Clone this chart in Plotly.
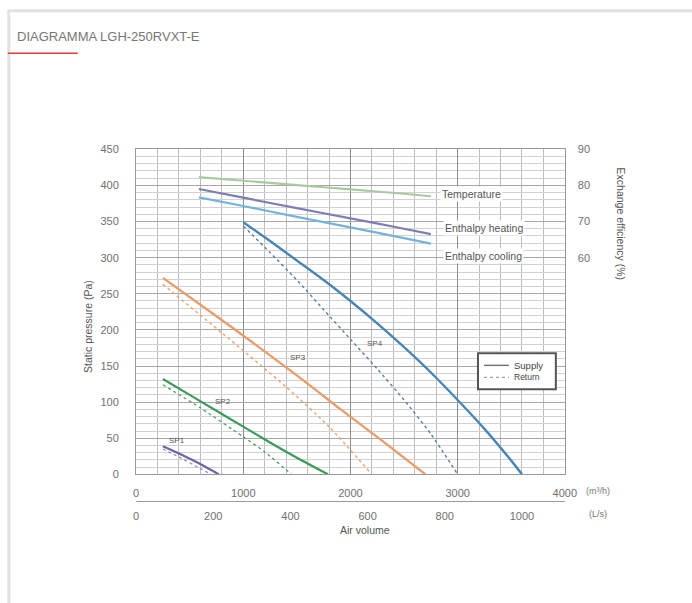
import plotly.graph_objects as go

W, H = 692, 603

# ---------------- data ----------------
# Static pressure curves (air volume m3/h, static pressure Pa)
sp1_sup_x = [250, 400, 550, 700, 770]
sp1_sup_y = [39, 29, 18, 6, 0]
sp1_ret_x = [250, 400, 550, 700]
sp1_ret_y = [35, 24, 12, 0]

sp2_sup_x = [250, 500, 750, 1000, 1250, 1500, 1790]
sp2_sup_y = [132, 110, 88, 66, 44, 23, 0]
sp2_ret_x = [250, 600, 1000, 1200, 1450]
sp2_ret_y = [124, 92, 52, 31, 0]

sp3_sup_x = [250, 880, 1500, 1900, 2300, 2700]
sp3_sup_y = [272, 205, 137, 91, 46, 0]
sp3_ret_x = [250, 800, 1400, 1800, 2200]
sp3_ret_y = [263, 196, 121, 66, 0]

sp4_sup_x = [1000, 1250, 1500, 1750, 2000, 2250, 2500, 2750, 3000, 3250, 3500, 3600]
sp4_sup_y = [349, 323, 296, 269, 240, 209, 176, 141, 103, 63, 19, 0]
sp4_ret_x = [1000, 1250, 1500, 1750, 2000, 2250, 2500, 2750, 3000]
sp4_ret_y = [344, 307, 269, 228, 187, 146, 103, 56, 0]

# Exchange efficiency curves (air volume m3/h, efficiency %)
eff_x = [586, 1000, 1500, 2000, 2500, 2750]
temp_eff = [82.3, 81.3, 80.1, 78.9, 77.7, 77.0]
heat_eff = [79.0, 76.6, 73.7, 70.9, 68.0, 66.5]
cool_eff = [76.7, 74.3, 71.3, 68.4, 65.4, 63.9]

x_ticks_m3h = [0, 1000, 2000, 3000, 4000]
x_ticks_ls = [0, 200, 400, 600, 800, 1000]
y_ticks_pa = [0, 50, 100, 150, 200, 250, 300, 350, 400, 450]
y_ticks_eff = [60, 70, 80, 90]

# ---------------- layout helpers ----------------
# target pixel positions (as seen in the final picture) -> figure pixels
SC, OX, OY = 0.98, 2.2, 4.7
def X(c):
    return (c - OX) / SC
def Y(c):
    return (c - OY) / SC
def px(c):
    return X(c) / W
def py(c):
    return 1 - Y(c) / H

PL, PR, PT, PB = 135.5, 565, 148, 473

fig = go.Figure()

def add_curve(x, y, color, dash="solid", width=2.0, yaxis="y"):
    fig.add_trace(go.Scatter(x=x, y=y, mode="lines", yaxis=yaxis, showlegend=False,
                             line=dict(color=color, width=width, dash=dash, shape="spline", smoothing=0.6),
                             hoverinfo="skip"))

# efficiency curves (right axis)
add_curve(eff_x, temp_eff, "#a9c9a2", width=2.2, yaxis="y2")
add_curve(eff_x, heat_eff, "#7f7db3", width=2.2, yaxis="y2")
add_curve(eff_x, cool_eff, "#74b4d8", width=2.2, yaxis="y2")

# pressure curves
add_curve(sp1_ret_x, sp1_ret_y, "#8e86c0", dash="dot", width=1.2)
add_curve(sp1_sup_x, sp1_sup_y, "#6e64a8", width=2.2)
add_curve(sp2_ret_x, sp2_ret_y, "#4f9a69", dash="dot", width=1.3)
add_curve(sp2_sup_x, sp2_sup_y, "#3c9a5c", width=2.2)
add_curve(sp3_ret_x, sp3_ret_y, "#e7a67a", dash="dot", width=1.5)
add_curve(sp3_sup_x, sp3_sup_y, "#e89d6a", width=2.4)
add_curve(sp4_ret_x, sp4_ret_y, "#5a7f9e", dash="dot", width=1.4)
add_curve(sp4_sup_x, sp4_sup_y, "#4a86b4", width=2.4)

# dummy trace for the L/s axis
fig.add_trace(go.Scatter(x=[0, 4000 / 3.6], y=[None, None], xaxis="x2", mode="lines",
                         showlegend=False, hoverinfo="skip"))

tickfont = dict(family="Liberation Sans, Arial", size=11, color="#707070")

fig.update_layout(
    width=W, height=H,
    margin=dict(l=0, r=0, t=0, b=0),
    paper_bgcolor="white", plot_bgcolor="white",
    showlegend=False,
    xaxis=dict(domain=[px(PL), px(PR)], range=[0, 4000], tickvals=x_ticks_m3h,
               ticks="", ticklabelstandoff=8, tickfont=tickfont,
               showgrid=True, gridcolor="#8c8c8c", gridwidth=1,
               minor=dict(dtick=200, showgrid=True, gridcolor="#bdbdbd", gridwidth=1),
               showline=True, linecolor="#999", mirror=True, zeroline=False),
    xaxis2=dict(domain=[px(PL), px(PR)], overlaying="x", anchor="free", side="bottom",
                position=py(500), range=[0, 4000 / 3.6], tickvals=x_ticks_ls,
                ticks="", ticklabelstandoff=4, tickfont=tickfont,
                showgrid=False, showline=True, linecolor="#9a9a9a", zeroline=False),
    yaxis=dict(domain=[py(PB), py(PT)], range=[0, 450], tickvals=y_ticks_pa,
               ticks="", ticklabelstandoff=14, tickfont=tickfont,
               showgrid=True, gridcolor="#a8a8a8", gridwidth=1,
               minor=dict(dtick=10, showgrid=True, gridcolor="#d2d2d2", gridwidth=1),
               showline=True, linecolor="#999", mirror=True, zeroline=False),
    yaxis2=dict(overlaying="y", side="right", anchor="x", range=[0, 90], tickvals=y_ticks_eff,
                ticks="", ticklabelstandoff=12, tickfont=tickfont,
                showgrid=False, zeroline=False, showline=False),
)

def ann(text, x, y, xref="x", yref="y", size=9, color="#555", bg=None, angle=0, xanchor="center"):
    d = dict(text=text, x=x, y=y, xref=xref, yref=yref, showarrow=False, textangle=angle,
             xanchor=xanchor, font=dict(family="Liberation Sans, Arial", size=size, color=color))
    if bg:
        d["bgcolor"] = bg
    fig.add_annotation(**d)

# curve labels
ann("SP1", 380, 47, size=8)
ann("SP2", 810, 101, size=8)
ann("SP3", 1510, 162, size=8)
ann("SP4", 2230, 181, size=8)
ann("Temperature", 2840, 77.6, yref="y2", bg="white", xanchor="left", size=10.5)
ann("Enthalpy heating", 2860, 68.2, yref="y2", bg="white", xanchor="left", size=10.5)
ann("Enthalpy cooling", 2860, 60.4, yref="y2", bg="white", xanchor="left", size=10.5)

# legend box (Supply / Return)
fig.add_shape(type="rect", xref="paper", yref="paper", x0=px(478), x1=px(556), y0=py(352), y1=py(388),
              line=dict(color="#555", width=2), fillcolor="white")
fig.add_shape(type="line", xref="paper", yref="paper", x0=px(484), x1=px(509), y0=py(364), y1=py(364),
              line=dict(color="#777", width=1.5))
fig.add_shape(type="line", xref="paper", yref="paper", x0=px(484), x1=px(509), y0=py(376), y1=py(376),
              line=dict(color="#888", width=1, dash="dot"))
ann("Supply", px(512), py(364), xref="paper", yref="paper", size=9.5, color="#444", xanchor="left")
ann("Return", px(512), py(376), xref="paper", yref="paper", size=8.5, color="#444", xanchor="left")

# axis titles / units
ann("Static pressure (Pa)", px(88), py(325), xref="paper", yref="paper", size=10.5, color="#555", angle=-90)
ann("Exchange efficiency (%)", px(621), py(222), xref="paper", yref="paper", size=10.5, color="#555", angle=90)
ann("Air volume", px(365), py(537), xref="paper", yref="paper", size=10.5, color="#555")
ann("(m³/h)", px(598), py(497), xref="paper", yref="paper", size=9, color="#777")
ann("(L/s)", px(598), py(520), xref="paper", yref="paper", size=9, color="#777")

# page decoration: container border, title and red underline
fig.add_shape(type="line", xref="paper", yref="paper", x0=px(8), x1=px(8), y0=py(9), y1=py(612),
              line=dict(color="#e2e2e2", width=3))
fig.add_shape(type="line", xref="paper", yref="paper", x0=px(7), x1=px(710), y0=py(9.5), y1=py(9.5),
              line=dict(color="#e2e2e2", width=3))
fig.add_shape(type="line", xref="paper", yref="paper", x0=px(7), x1=px(77), y0=py(52), y1=py(52),
              line=dict(color="#e53935", width=1.5))
fig.add_annotation(text="DIAGRAMMA LGH-250RVXT-E", x=px(14), y=py(35), xref="paper", yref="paper",
                   xanchor="left", yanchor="middle", showarrow=False,
                   font=dict(family="Liberation Sans, Arial", size=13, color="#777"))

fig.write_html("out.html", config={"displayModeBar": False},
               post_script="document.body.style.margin='0';document.body.style.overflow='hidden';")
